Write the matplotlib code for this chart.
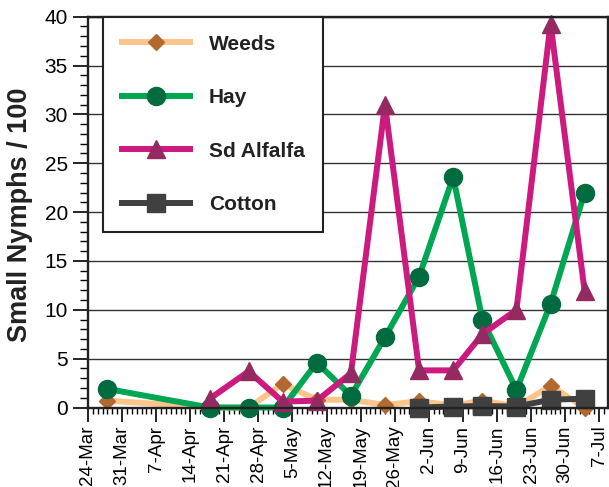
import matplotlib
matplotlib.use("Agg")
import matplotlib.pyplot as plt
import matplotlib.dates as mdates
from matplotlib.lines import Line2D
from matplotlib.legend_handler import HandlerLine2D
import pandas as pd

# sampling dates (2003 season) and counts of small nymphs / 100
dates = ["28-Mar", "18-Apr", "26-Apr", "3-May", "10-May", "17-May", "24-May",
         "31-May", "7-Jun", "13-Jun", "20-Jun", "27-Jun", "4-Jul"]
weeds = [0.7, 0.0, 0.0, 2.4, 0.8, 0.8, 0.25, 0.65, 0.2, 0.7, 0.1, 2.2, 0.0]
hay = [1.9, 0.0, 0.0, 0.0, 4.6, 1.2, 7.2, 13.4, 23.6, 9.0, 1.8, 10.6, 22.0]
alfalfa_dates = dates[1:]
alfalfa = [0.9, 3.7, 0.6, 0.7, 3.5, 31.0, 3.8, 3.8, 7.5, 10.0, 39.3, 11.9]
cotton_dates = dates[7:]
cotton = [0.0, 0.1, 0.15, 0.1, 0.8, 0.9]

tick_labels = ["24-Mar", "31-Mar", "7-Apr", "14-Apr", "21-Apr", "28-Apr", "5-May",
               "12-May", "19-May", "26-May", "2-Jun", "9-Jun", "16-Jun", "23-Jun",
               "30-Jun", "7-Jul"]


def to_dt(labels):
    return pd.to_datetime([s + "-2003" for s in labels], format="%d-%b-%Y")


plt.rcParams['font.family'] = ['Liberation Sans', 'DejaVu Sans']

fig = plt.figure(figsize=(6.09, 4.87), dpi=100)
ax = fig.add_axes([88 / 609, 1 - 407.5 / 487, 520 / 609, 390.8 / 487])

ax.plot(to_dt(dates), weeds, color='#FCC58C', lw=4.3, marker='D', ms=8.5,
        mfc='#B2692F', mec='#B2692F', label='Weeds', clip_on=False)
ax.plot(to_dt(dates), hay, color='#00A651', lw=4.3, marker='o', ms=13,
        mfc='#006B3F', mec='#006B3F', label='Hay', clip_on=False)
ax.plot(to_dt(alfalfa_dates), alfalfa, color='#CC1A7F', lw=4.3, marker='^', ms=13,
        mfc='#952A63', mec='#952A63', label='Sd Alfalfa', clip_on=False)
ax.plot(to_dt(cotton_dates), cotton, color='#404040', lw=4.3, marker='s', ms=12.5,
        mfc='#404040', mec='#404040', label='Cotton', clip_on=False)

ax.set_ylim(0, 40)
ax.set_yticks(range(0, 41, 5))
ax.yaxis.set_minor_locator(plt.MultipleLocator(1))
ax.grid(axis='y', which='major', color='#333333', lw=1.0)
ax.set_axisbelow(True)

ticks = to_dt(tick_labels)
ax.set_xticks(ticks)
ax.set_xticklabels(tick_labels, rotation=90, fontsize=13.5)
ax.xaxis.set_minor_locator(mdates.DayLocator())
ax.set_xlim(mdates.date2num(ticks[0]), mdates.date2num(ticks[-1]) + 1.8)

ax.tick_params(axis='y', which='major', length=11, width=1.2, labelsize=15, pad=3.5)
ax.tick_params(axis='y', which='minor', length=5.5, width=1.0)
ax.tick_params(axis='x', which='major', length=10, width=1.2, pad=3)
ax.tick_params(axis='x', which='minor', length=4.3, width=1.0)
for sp in ax.spines.values():
    sp.set_linewidth(1.7)
    sp.set_color('#222222')

fig.text(20 / 609, 1 - 215 / 487, "Small Nymphs / 100", rotation=90,
         ha='center', va='center', fontsize=19.5, fontweight='bold', color='#222222')

# legend: handle line nudged a little right inside the box
leg = ax.legend(loc='upper left', bbox_to_anchor=(14.7 / 520, 1.0), borderaxespad=0,
                prop={'weight': 'bold', 'size': 15},
                handlelength=3.34, handletextpad=0.90, labelspacing=1.66,
                borderpad=0.86, fancybox=False, framealpha=1, edgecolor='#222222',
                handler_map={Line2D: HandlerLine2D(xpad=0.058)})
leg.get_frame().set_linewidth(1.5)
for t in leg.get_texts():
    t.set_color('#222222')

fig.savefig("out.png", dpi=100)
